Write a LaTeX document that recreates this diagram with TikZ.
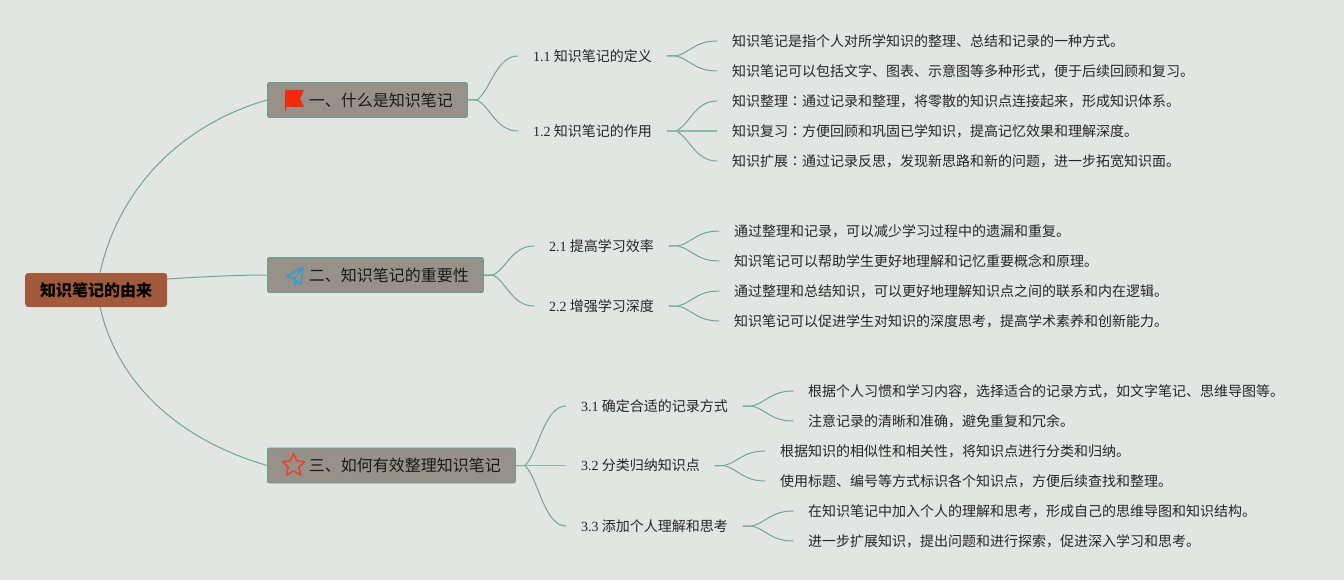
\documentclass[tikz,border=0pt]{standalone}
\usepackage{fontspec}
\usetikzlibrary{calc}
\setmainfont{Noto Sans CJK SC}
\newfontfamily\numf{Liberation Serif}
\newfontfamily\tcf{Noto Sans CJK TC}
\definecolor{bgc}{HTML}{E2E6E2}
\definecolor{linec}{HTML}{6FA596}
\definecolor{rootc}{HTML}{A25A3C}
\definecolor{secc}{HTML}{97918A}
\definecolor{secb}{HTML}{62A08F}
\definecolor{flagc}{HTML}{F32A0A}
\definecolor{planec}{HTML}{3D98CE}
\definecolor{starc}{HTML}{E8432C}
\tikzset{
  x=1pt,y=-1pt,
  rootbox/.style={draw=none,fill=rootc,rounded corners=3pt,minimum width=142pt,minimum height=34pt,inner sep=0pt,font=\fontsize{16pt}{18pt}\selectfont\bfseries,text=black,anchor=west},
  secbox/.style={draw=secb,line width=0.9pt,fill=secc,rounded corners=2pt,minimum height=35pt,inner xsep=14.5pt,inner ysep=0pt,font=\fontsize{16pt}{18pt}\selectfont,text=black!90,anchor=west},
  subitem/.style={inner xsep=15pt,inner ysep=0pt,font=\fontsize{14pt}{16pt}\selectfont,text=black!85,anchor=west,minimum height=20pt},
  leafitem/.style={inner xsep=15pt,inner ysep=0pt,font=\fontsize{14pt}{16pt}\selectfont,text=black!85,anchor=west,minimum height=20pt},
  rootlink/.style={draw=linec,line width=1pt},
  branch/.style={draw=linec,line width=1pt,line cap=round,
    to path={-- ($(\tikztostart)+(9,0)$) .. controls ($($(\tikztostart)+(24,0)$)!0.5!($(\tikztostart)!0.42!(\tikztotarget)$)$) and ($(\tikztotarget)+(-22,0)$) .. (\tikztotarget)}},
  straightbranch/.style={draw=linec!80,line width=1.6pt},
}
\begin{document}
\begin{tikzpicture}
\useasboundingbox[fill=bgc] (0,0) rectangle (1344,580);
% root and sections
\node[rootbox] (root) at (25,290) {知识笔记的由来};
\node[secbox] (s1) at (267,100) {\hspace*{27pt}一、什么是知识笔记};
\node[secbox] (s2) at (267,275) {\hspace*{27pt}二、知识笔记的重要性};
\node[secbox] (s3) at (267,465.5) {\hspace*{27pt}三、如何有效整理知识笔记};
\coordinate (rootup) at (100,273);
\coordinate (rootdown) at (100,307);
\coordinate (rootright) at (167,279);
% subsections
\node[subitem] (a1) at (518,56) {{\numf 1.1} 知识笔记的定义};
\node[subitem] (a2) at (518,131) {{\numf 1.2} 知识笔记的作用};
\node[subitem] (b1) at (534,246) {{\numf 2.1} 提高学习效率};
\node[subitem] (b2) at (534,306) {{\numf 2.2} 增强学习深度};
\node[subitem] (c1) at (566,406) {{\numf 3.1} 确定合适的记录方式};
\node[subitem] (c2) at (566,465.5) {{\numf 3.2} 分类归纳知识点};
\node[subitem] (c3) at (566,526) {{\numf 3.3} 添加个人理解和思考};
% leaves
\node[leafitem] (l1) at (717,41) {知识笔记是指个人对所学知识的整理、总结和记录的一种方式。};
\node[leafitem] (l2) at (717,71) {知识笔记可以包括文字、图表、示意图等多种形式，便于后续回顾和复习。};
\node[leafitem] (l3) at (717,101) {知识整理{\tcf ：}通过记录和整理，将零散的知识点连接起来，形成知识体系。};
\node[leafitem] (l4) at (717,131) {知识复习{\tcf ：}方便回顾和巩固已学知识，提高记忆效果和理解深度。};
\node[leafitem] (l5) at (717,161) {知识扩展{\tcf ：}通过记录反思，发现新思路和新的问题，进一步拓宽知识面。};
\node[leafitem] (l6) at (719,231) {通过整理和记录，可以减少学习过程中的遗漏和重复。};
\node[leafitem] (l7) at (719,261) {知识笔记可以帮助学生更好地理解和记忆重要概念和原理。};
\node[leafitem] (l8) at (719,291) {通过整理和总结知识，可以更好地理解知识点之间的联系和内在逻辑。};
\node[leafitem] (l9) at (719,321) {知识笔记可以促进学生对知识的深度思考，提高学术素养和创新能力。};
\node[leafitem] (l10) at (793,391) {根据个人习惯和学习内容，选择适合的记录方式，如文字笔记、思维导图等。};
\node[leafitem] (l11) at (793,421) {注意记录的清晰和准确，避免重复和冗余。};
\node[leafitem] (l12) at (765,451) {根据知识的相似性和相关性，将知识点进行分类和归纳。};
\node[leafitem] (l13) at (765,481) {使用标题、编号等方式标识各个知识点，方便后续查找和整理。};
\node[leafitem] (l14) at (793,511) {在知识笔记中加入个人的理解和思考，形成自己的思维导图和知识结构。};
\node[leafitem] (l15) at (793,541) {进一步扩展知识，提出问题和进行探索，促进深入学习和思考。};
% root links
\draw[rootlink] (rootup) .. controls (118,190) and (180,125) .. (s1.west);
\draw[rootlink] (rootright) .. controls (200,277) and (235,275) .. (s2.west);
\draw[rootlink] (rootdown) .. controls (118,385) and (180,440) .. (s3.west);
% branches
\foreach \p/\q in {s1/a1,s1/a2,s2/b1,s2/b2,s3/c1,s3/c3,
  a1/l1,a1/l2,a2/l3,a2/l5,b1/l6,b1/l7,b2/l8,b2/l9,
  c1/l10,c1/l11,c2/l12,c2/l13,c3/l14,c3/l15}
  \draw[branch] (\p.east) to (\q.west);
\draw[straightbranch] (s3.east) -- (c2.west);
\draw[straightbranch] (a2.east) -- (l4.west);
% icons
\fill[flagc] (285,90) -- (304,90) -- (300,98.5) -- (304,107) -- (286.2,107) -- (285.6,111) -- (285,111) -- cycle;
\draw[draw=planec,line width=1.6pt,line join=round] (303,267) -- (287,276) -- (294,279) -- (301,284) -- cycle (303,267) -- (294,279) -- (295,285) -- (298,282);
\draw[draw=starc,line width=1.6pt,line join=round] (293.5,453.5) -- (296.7,460.8) -- (304.5,461.8) -- (298.8,467.2) -- (300.6,475) -- (293.5,471) -- (286.4,475) -- (288.2,467.2) -- (282.5,461.8) -- (290.3,460.8) -- cycle;
\end{tikzpicture}
\end{document}
